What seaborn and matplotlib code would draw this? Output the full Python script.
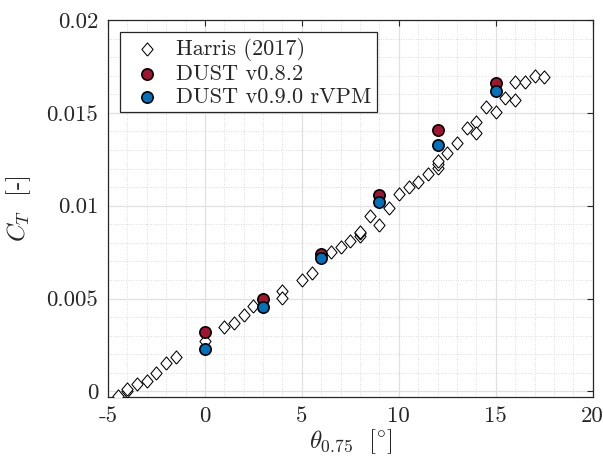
import numpy as np
import pandas as pd
import matplotlib
matplotlib.use('Agg')
import matplotlib.pyplot as plt
from matplotlib.ticker import MultipleLocator
import seaborn as sns

# === DATA ===
harris_theta = [-4.5, -4.0, -4.0, -3.5, -3.0, -2.5, -2.0, -1.5, 0.0, 1.0, 1.5, 2.0, 2.5,
                4.0, 4.0, 5.0, 5.5, 6.5, 7.0, 7.5, 8.0, 8.0, 8.0, 8.5, 9.0, 9.5, 10.0,
                10.5, 11.0, 11.5, 12.0, 12.0, 12.0, 12.5, 13.0, 13.5, 14.0, 14.0, 14.5,
                15.0, 15.5, 16.0, 16.0, 16.5, 17.0, 17.5]
harris_ct = [-0.00025, 0.0, 0.0001, 0.0004, 0.00055, 0.001, 0.0015, 0.00186, 0.0027,
             0.00348, 0.0037, 0.0041, 0.0046, 0.0054, 0.00504, 0.0060, 0.00638, 0.00749,
             0.00778, 0.00808, 0.00835, 0.00853, 0.0086, 0.00943, 0.00898, 0.00988,
             0.01065, 0.01102, 0.01126, 0.01173, 0.01203, 0.01226, 0.01243, 0.01283,
             0.01337, 0.01418, 0.01453, 0.01391, 0.01534, 0.01507, 0.01579, 0.0157,
             0.01668, 0.01668, 0.01699, 0.01692]

dust_theta = [0, 3, 6, 9, 12, 15]
dust082_ct = [0.0032, 0.00495, 0.00742, 0.01059, 0.01409, 0.01663]
dust090_ct = [0.0023, 0.00453, 0.00717, 0.01018, 0.01328, 0.0162]

x_ticks = [-5, 0, 5, 10, 15, 20]
x_ticklabels = ['-5', '0', '5', '10', '15', '20']
y_ticks = [0, 0.005, 0.01, 0.015, 0.02]
y_ticklabels = ['0', '0.005', '0.01', '0.015', '0.02']

# === STYLE ===
sns.set_style('white')
plt.rcParams['font.family'] = ['cmr10', 'DejaVu Serif']
plt.rcParams['mathtext.fontset'] = 'cm'
plt.rcParams['axes.unicode_minus'] = False

df_harris = pd.DataFrame({'theta': harris_theta, 'CT': harris_ct})
df_082 = pd.DataFrame({'theta': dust_theta, 'CT': dust082_ct})
df_090 = pd.DataFrame({'theta': dust_theta, 'CT': dust090_ct})

# MATLAB-style diamond, a bit narrower than tall
diamond = [(0, -1), (0.85, 0), (0, 1), (-0.85, 0), (0, -1)]

fig = plt.figure(figsize=(6.03, 4.68), dpi=100)
ax = fig.add_axes([0.179, 0.152, 0.804, 0.805])

sns.scatterplot(data=df_harris, x='theta', y='CT', marker=diamond, s=90, facecolor='white',
                edgecolor='black', linewidth=0.75, label='Harris (2017)', ax=ax, zorder=3)
sns.scatterplot(data=df_082, x='theta', y='CT', marker='o', s=66, color='#A2142F',
                edgecolor='black', linewidth=1.2, label='DUST v0.8.2', ax=ax, zorder=4)
sns.scatterplot(data=df_090, x='theta', y='CT', marker='o', s=66, color='#0072BD',
                edgecolor='black', linewidth=1.2, label='DUST v0.9.0 rVPM', ax=ax, zorder=5)

ax.set_xlim(-5, 20)
ax.set_ylim(-0.0003, 0.02)
ax.set_xticks(x_ticks)
ax.set_xticklabels(x_ticklabels)
ax.set_yticks(y_ticks)
ax.set_yticklabels(y_ticklabels)
ax.xaxis.set_minor_locator(MultipleLocator(1))
ax.yaxis.set_minor_locator(MultipleLocator(0.001))

ax.grid(which='major', color='#e0e0e0', linewidth=0.9, linestyle='-')
ax.grid(which='minor', color='#d0d0d0', linewidth=0.6, linestyle=(0, (1, 2)))
ax.set_axisbelow(True)

ax.tick_params(which='major', direction='in', length=4, width=0.8, top=True, right=True,
               labelsize=16.5, colors='#262626', pad=7)
ax.tick_params(which='minor', length=0)
for sp in ax.spines.values():
    sp.set_color('#262626')
    sp.set_linewidth(0.9)

ax.set_xlabel(r'$\theta_{0.75}\ \ [^{\circ}]$', fontsize=18, color='#262626', labelpad=1)
ax.set_ylabel(r'$C_T\ $ [-]', fontsize=18, color='#262626', labelpad=10)

leg = ax.legend(loc='upper left', bbox_to_anchor=(0.025, 0.968), borderaxespad=0,
                fontsize=16, frameon=True, fancybox=False, edgecolor='#262626',
                framealpha=1, labelspacing=0.15, handletextpad=0.35, borderpad=0.25,
                handlelength=1.9)
leg.get_frame().set_linewidth(0.9)

fig.savefig('out.png', dpi=100)
